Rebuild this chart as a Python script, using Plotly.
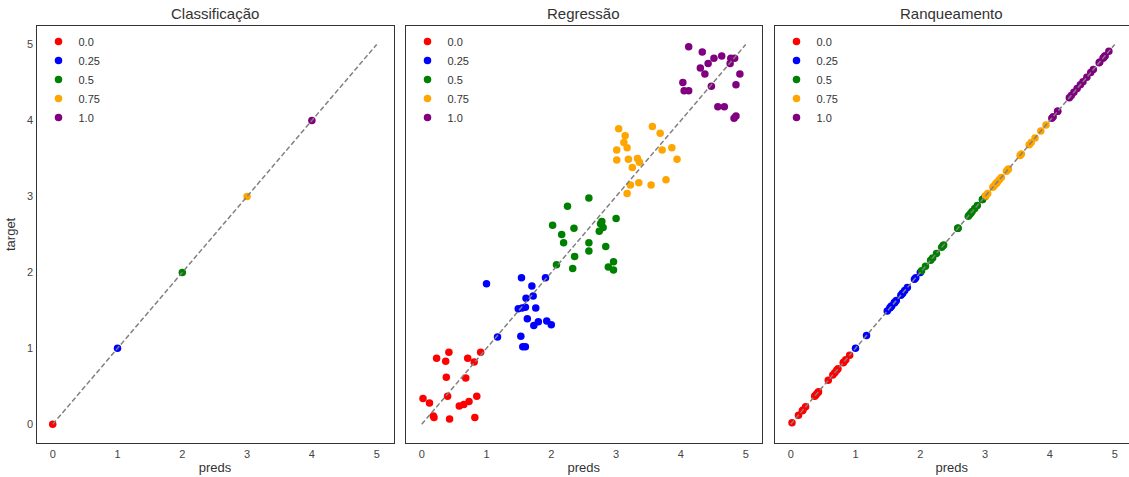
import plotly.graph_objects as go

# ---------------- data ----------------
classes = ["0.0", "0.25", "0.5", "0.75", "1.0"]
colors = ["red", "blue", "green", "orange", "purple"]
diag = [0, 5]
tick_vals = [0, 1, 2, 3, 4, 5]
titles = ["Classificação", "Regressão", "Ranqueamento"]

# Classification
clf_preds_00 = [0]
clf_target_00 = [0]
clf_preds_025 = [1]
clf_target_025 = [1]
clf_preds_05 = [2]
clf_target_05 = [2]
clf_preds_075 = [3]
clf_target_075 = [3]
clf_preds_10 = [4]
clf_target_10 = [4]

# Regression
reg_preds_00 = [0.23, 0.42, 0.37, 0.71, 0.81, 0.91, 0.38, 0.68, 0.02, 0.12,
                0.40, 0.58, 0.65, 0.73, 0.85, 0.18, 0.19, 0.43, 0.82]
reg_target_00 = [0.87, 0.95, 0.83, 0.87, 0.82, 0.95, 0.62, 0.61, 0.34, 0.28,
                 0.37, 0.24, 0.26, 0.30, 0.37, 0.11, 0.09, 0.07, 0.09]
reg_preds_025 = [1.00, 1.54, 1.91, 1.70, 1.72, 1.61, 1.49, 1.55, 1.60, 1.76,
                 1.63, 1.73, 1.80, 1.93, 2.00, 1.17, 1.53, 1.56, 1.60]
reg_target_025 = [1.85, 1.93, 1.93, 1.82, 1.69, 1.66, 1.52, 1.53, 1.54, 1.53,
                  1.39, 1.30, 1.35, 1.36, 1.31, 1.15, 1.16, 1.02, 1.02]
reg_preds_05 = [2.58, 2.25, 3.00, 2.78, 2.76, 2.80, 2.74, 2.02, 2.35, 2.16,
                2.19, 2.58, 2.58, 2.84, 2.36, 2.08, 2.33, 2.96, 2.88, 2.96]
reg_target_05 = [2.98, 2.87, 2.71, 2.67, 2.64, 2.59, 2.54, 2.62, 2.58, 2.50,
                 2.39, 2.39, 2.28, 2.34, 2.21, 2.10, 2.05, 2.14, 2.07, 2.03]
reg_preds_075 = [3.04, 3.56, 3.14, 3.68, 3.12, 3.17, 3.01, 3.71, 3.86, 3.01,
                 3.19, 3.33, 3.36, 3.94, 3.25, 3.22, 3.35, 3.54, 3.77, 3.17]
reg_target_075 = [3.89, 3.92, 3.80, 3.83, 3.71, 3.64, 3.61, 3.61, 3.64, 3.48,
                  3.49, 3.50, 3.45, 3.49, 3.38, 3.15, 3.18, 3.15, 3.22, 3.04]
reg_preds_10 = [4.12, 4.33, 4.51, 4.63, 4.42, 4.30, 4.37, 4.77, 4.83, 4.76,
                4.91, 4.03, 4.05, 4.12, 4.47, 4.85, 4.57, 4.67, 4.82, 4.85]
reg_target_10 = [4.97, 4.90, 4.82, 4.85, 4.75, 4.69, 4.61, 4.82, 4.82, 4.75,
                 4.61, 4.50, 4.39, 4.39, 4.45, 4.47, 4.18, 4.18, 4.03, 4.06]

# Ranking (points lie on the diagonal: target equals preds)
rank_preds_00 = reg_preds_00
rank_target_00 = reg_preds_00
rank_preds_025 = reg_preds_025
rank_target_025 = reg_preds_025
rank_preds_05 = reg_preds_05
rank_target_05 = reg_preds_05
rank_preds_075 = reg_preds_075
rank_target_075 = reg_preds_075
rank_preds_10 = reg_preds_10
rank_target_10 = reg_preds_10

panels = [
    [(clf_preds_00, clf_target_00), (clf_preds_025, clf_target_025),
     (clf_preds_05, clf_target_05), (clf_preds_075, clf_target_075),
     (clf_preds_10, clf_target_10)],
    [(reg_preds_00, reg_target_00), (reg_preds_025, reg_target_025),
     (reg_preds_05, reg_target_05), (reg_preds_075, reg_target_075),
     (reg_preds_10, reg_target_10)],
    [(rank_preds_00, rank_target_00), (rank_preds_025, rank_target_025),
     (rank_preds_05, rank_target_05), (rank_preds_075, rank_target_075),
     (rank_preds_10, rank_target_10)],
]

# ---------------- layout geometry ----------------
W, H = 1129, 477
FONT = "Arial, Liberation Sans, sans-serif"
px_left = [36.5, 405.5, 774.5]
px_right = [393.5, 762.0, 1129.0]
unit = 64.8
top_px, bot_px = 25.5, 443.3
ydom = [1 - bot_px / H, 1 - top_px / H]

fig = go.Figure()

legend_names = ["legend", "legend2", "legend3"]
for p in range(3):
    xa = "x" if p == 0 else f"x{p+1}"
    ya = "y" if p == 0 else f"y{p+1}"
    for ci, (xs, ys) in enumerate(panels[p]):
        fig.add_trace(go.Scatter(
            x=xs, y=ys, mode="markers", name=classes[ci],
            marker=dict(color=colors[ci], size=7.5, line=dict(width=0)),
            xaxis=xa, yaxis=ya, legend=legend_names[p], showlegend=True,
        ))
    fig.add_trace(go.Scatter(
        x=diag, y=diag, mode="lines",
        line=dict(color="#808080", width=1.5, dash="5px,2.5px"),
        xaxis=xa, yaxis=ya, showlegend=False, hoverinfo="skip",
    ))

axis_common = dict(
    showgrid=False, zeroline=False, showline=True, mirror=True,
    linecolor="#333333", linewidth=1.3, ticks="",
    tickfont=dict(family=FONT, size=11, color="#444444"),
    tickvals=tick_vals,
)

layout = dict(
    width=W, height=H,
    margin=dict(l=0, r=0, t=0, b=0),
    paper_bgcolor="white", plot_bgcolor="white",
    font=dict(family=FONT, color="#333333"),
)

for p in range(3):
    xkey = "xaxis" if p == 0 else f"xaxis{p+1}"
    ykey = "yaxis" if p == 0 else f"yaxis{p+1}"
    xr_lo = -0.25
    xr_hi = -0.25 + (px_right[p] - px_left[p]) / unit
    layout[xkey] = dict(
        axis_common,
        domain=[px_left[p] / W, px_right[p] / W],
        range=[xr_lo, xr_hi],
        anchor="y" if p == 0 else f"y{p+1}",
        title=dict(text="preds", font=dict(family=FONT, size=13, color="#333333"), standoff=4),
    )
    ydict = dict(
        axis_common,
        domain=ydom,
        range=[-0.25, 5.25],
        anchor="x" if p == 0 else f"x{p+1}",
        showticklabels=(p == 0),
    )
    if p == 0:
        ydict["title"] = dict(text="target", font=dict(family=FONT, size=13, color="#333333"), standoff=8)
    layout[ykey] = ydict
    lkey = legend_names[p]
    layout[lkey] = dict(
        x=(px_left[p] + 2) / W, y=1 - 27 / H, xanchor="left", yanchor="top",
        bgcolor="rgba(0,0,0,0)", borderwidth=0,
        font=dict(family=FONT, size=11, color="#333333"),
    )

annotations = []
for p in range(3):
    annotations.append(dict(
        text=titles[p], xref="paper", yref="paper",
        x=(px_left[p] + min(px_right[p], px_left[p] + 357)) / 2 / W, y=1 - 14 / H,
        xanchor="center", yanchor="middle", showarrow=False,
        font=dict(family=FONT, size=15, color="#333333"),
    ))
layout["annotations"] = annotations

fig.update_layout(**layout)
fig.write_html("out.html")
